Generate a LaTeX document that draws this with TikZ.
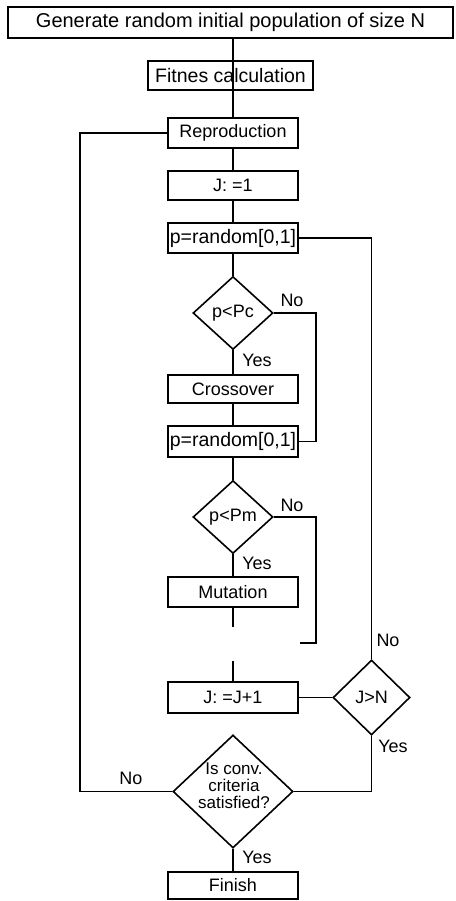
\documentclass[tikz,border=0pt]{standalone}
\usepackage{fontspec}
\setmainfont{Liberation Sans}
\usetikzlibrary{shapes.geometric}
\begin{document}
\begin{tikzpicture}[x=1pt,y=-1pt,line width=1.6pt,
  box/.style={draw,rectangle,minimum width=130pt,minimum height=29pt,inner sep=0pt,font=\fontsize{18}{20}\selectfont},
  dia/.style={draw,diamond,inner sep=0pt,font=\fontsize{18}{20}\selectfont},
  lbl/.style={inner sep=0pt,font=\fontsize{18}{20}\selectfont}]
\useasboundingbox (0,0) rectangle (455,901);
\node[box,minimum width=445pt,minimum height=31pt,font=\fontsize{20}{22}\selectfont] (top) at (230.5,22.5) {Generate random initial population of size N};
\node[box,minimum width=165pt,font=\fontsize{19.5}{22}\selectfont] (fit) at (230.5,75.5) {Fitnes calculation};
\node[box,minimum height=30pt] (repro) at (233,133) {Reproduction};
\node[box] (j1) at (233,185.5) {J: =1};
\node[box,minimum height=30pt,font=\fontsize{19.5}{22}\selectfont] (pr1) at (233,238) {p=random[0,1]};
\node[dia,minimum width=80pt,minimum height=73pt] (pc) at (233,313) {p<Pc};
\node[box,minimum height=28pt] (cross) at (233,389) {Crossover};
\node[box,minimum height=31pt,font=\fontsize{19.5}{22}\selectfont] (pr2) at (233,441.5) {p=random[0,1]};
\node[dia,minimum width=80pt,minimum height=73pt] (pm) at (233,517) {p<Pm};
\node[box,minimum height=30pt] (mut) at (233,592) {Mutation};
\node[box,minimum height=31pt] (jj1) at (233,697.5) {J: =J+1};
\node[dia,minimum width=77pt,minimum height=75pt] (jn) at (371.5,697.5) {J>N};
\node[dia,minimum width=120pt,minimum height=113pt] (conv) at (233,791.5) {};
\node[inner sep=0pt,align=center,font=\fontsize{17}{17}\selectfont] (convtxt) at (234,786) {Is conv.\\criteria\\satisfied?};
\node[box,minimum height=27pt] (fin) at (233,885.5) {Finish};
\coordinate (mgap) at (233,627);
\coordinate (jgap) at (233,661);
\coordinate (pmend) at (300,643);
\coordinate (leftx) at (80,0);
% connectors
\draw (top.south -| repro.north) -- (fit.south -| repro.north);
\draw (fit.south -| repro.north) -- (repro.north);
\draw (repro) -- (j1);
\draw (j1) -- (pr1);
\draw (pr1) -- (pc);
\draw (pr1.east) -| (jn.north);
\draw (pc.east) -- ++(42,0) |- (pr2.east);
\draw (pc) -- (cross);
\draw (cross) -- (pr2);
\draw (pr2) -- (pm);
\draw (pm) -- (mut);
\draw (pm.east) -- ++(42,0) |- (pmend);
\draw (mut.south) -- (mgap);
\draw (jgap) -- (jj1.north);
\draw (jj1.east) -- (jn.west);
\draw (jn.south) |- (conv.east);
\draw (conv.west) -| (leftx |- repro.west) -- (repro.west);
\draw (conv.south) -- (fin.north);
% labels
\node[lbl] (l1) at (292,300) {No};
\node[lbl] (l2) at (257,360) {Yes};
\node[lbl] (l3) at (292,505) {No};
\node[lbl] (l4) at (257,563) {Yes};
\node[lbl] (l5) at (388,640) {No};
\node[lbl] (l6) at (393,746) {Yes};
\node[lbl] (l7) at (131,778) {No};
\node[lbl] (l8) at (257,857) {Yes};
\end{tikzpicture}
\end{document}
